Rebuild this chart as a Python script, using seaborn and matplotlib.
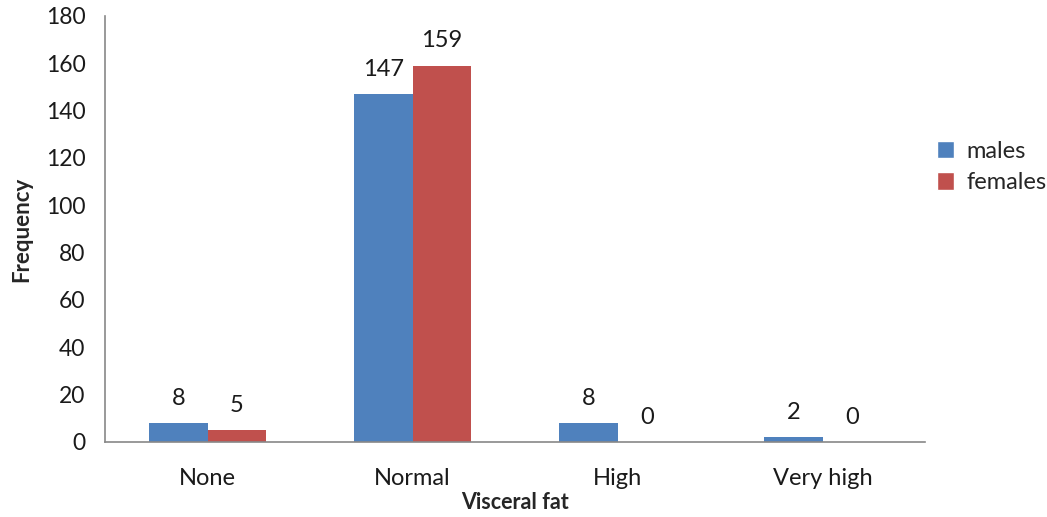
import matplotlib
matplotlib.use("Agg")
import matplotlib.pyplot as plt
import seaborn as sns
import pandas as pd
from matplotlib.patches import Patch

categories = ["None", "Normal", "High", "Very high"]
males = [8, 147, 8, 2]
females = [5, 159, 0, 0]
series_names = ["males", "females"]
colors = ["#4F81BD", "#C0504D"]

df = pd.DataFrame({
    "category": categories * 2,
    "sex": [series_names[0]] * len(categories) + [series_names[1]] * len(categories),
    "count": males + females,
})

sns.set_style("white")
plt.rcParams["font.family"] = ["Lato", "DejaVu Sans"]

fig = plt.figure(figsize=(10.47, 5.17), dpi=100)
ax = fig.add_axes([105 / 1047, 1 - 442 / 517, 820 / 1047, 426 / 517])

sns.barplot(
    data=df, x="category", y="count", hue="sex",
    palette=colors, width=0.57, saturation=1, ax=ax, legend=False,
    linewidth=0,
)

for container in ax.containers:
    for bar in container:
        h = bar.get_height()
        ax.annotate(
            f"{int(h)}", (bar.get_x() + bar.get_width() / 2, h),
            xytext=(0, 18), textcoords="offset points",
            ha="center", va="center", fontsize=17, color="#1a1a1a",
        )

ax.set_ylim(0, 180)
ax.set_yticks(range(0, 181, 20))
ax.set_xlim(-0.5, 3.5)
ax.tick_params(axis="y", length=6, color="#888888", labelsize=16.5, labelcolor="#1a1a1a", pad=8)
ax.tick_params(axis="x", length=0, labelsize=17, labelcolor="#1a1a1a", pad=19)
for side in ["top", "right"]:
    ax.spines[side].set_visible(False)
for side in ["left", "bottom"]:
    ax.spines[side].set_color("#888888")
    ax.spines[side].set_linewidth(1.2)

ax.set_xlabel("Visceral fat", fontsize=15.5, fontweight="bold", labelpad=2)
ax.set_ylabel("Frequency", fontsize=16, fontweight="bold", labelpad=10)

handles = [Patch(facecolor=c, label=n) for c, n in zip(colors, series_names)]
fig.legend(
    handles=handles, loc="center left", bbox_to_anchor=(932 / 1047, 1 - 167 / 517),
    frameon=False, fontsize=17, handlelength=0.75, handleheight=0.75,
    handletextpad=0.5, labelspacing=0.45, borderpad=0.2, borderaxespad=0,
)

fig.savefig("out.png", dpi=100)
